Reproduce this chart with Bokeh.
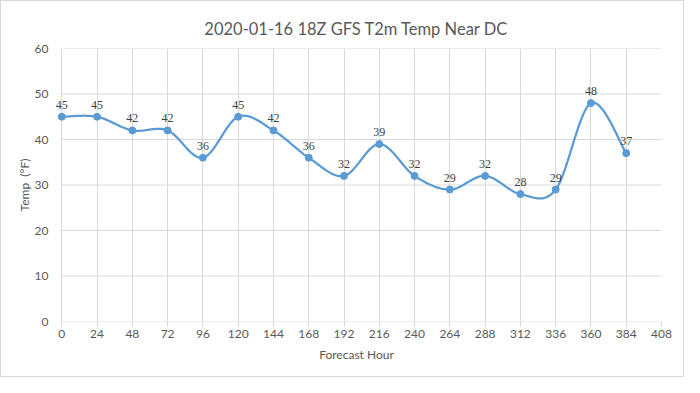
import numpy as np
from bokeh.plotting import figure
from bokeh.models import Range1d, FixedTicker, ColumnDataSource, LabelSet
from bokeh.embed import file_html
from bokeh.resources import INLINE

hours = [0, 24, 48, 72, 96, 120, 144, 168, 192, 216, 240, 264, 288, 312, 336, 360, 384]
temps = [45, 45, 42, 42, 36, 45, 42, 36, 32, 39, 32, 29, 32, 28, 29, 48, 37]
x_ticks = list(range(0, 409, 24))
y_ticks = list(range(0, 61, 10))
X_MIN, X_MAX = 0, 408

BLUE = "#5B9BD5"
GRID = "#D9D9D9"
TXT = "#595959"
FONT = "Lato"

# Excel-style smoothed curve (Bezier through the data points)
def smooth(xs, ys, n=30):
    xs = np.asarray(xs, float); ys = np.asarray(ys, float)
    P = np.column_stack([xs, ys])
    P = np.vstack([P[0], P, P[-1]])
    out = []
    for i in range(1, len(P) - 2):
        p0, p1, p2, p3 = P[i - 1], P[i], P[i + 1], P[i + 2]
        c1 = p1 + (p2 - p0) / 6.0
        c2 = p2 - (p3 - p1) / 6.0
        t = np.linspace(0, 1, n)[:, None]
        b = ((1 - t) ** 3) * p1 + 3 * ((1 - t) ** 2) * t * c1 + 3 * (1 - t) * t ** 2 * c2 + t ** 3 * p2
        out.append(b if i == 1 else b[1:])
    B = np.vstack(out)
    return B[:, 0], B[:, 1]

sx, sy = smooth(hours, temps)

PAD = 7  # extra room on the left so the first data label is not clipped
p = figure(width=684, height=377, output_backend="svg", toolbar_location=None,
           x_range=Range1d(X_MIN - PAD, X_MAX), y_range=Range1d(0, 60),
           min_border_left=50, min_border_right=24, min_border_top=47, min_border_bottom=57)
p.styles = {"border": "1px solid #D9D9D9", "box-sizing": "border-box"}

p.title.text = "2020-01-16 18Z GFS T2m Temp Near DC"
p.title.align = "center"
p.title.text_font = FONT
p.title.text_font_size = "16.5px"
p.title.text_font_style = "normal"
p.title.text_color = TXT
p.title.standoff = 20
p.title.offset = -30

p.outline_line_color = None
p.background_fill_color = "white"

p.xaxis.ticker = FixedTicker(ticks=x_ticks)
p.yaxis.ticker = FixedTicker(ticks=y_ticks)
p.xgrid.ticker = FixedTicker(ticks=x_ticks)
p.xgrid.grid_line_color = GRID
p.ygrid.grid_line_color = None

# horizontal gridlines span only 0..408
gl = ColumnDataSource(dict(x0=[X_MIN] * len(y_ticks), x1=[X_MAX] * len(y_ticks), y=y_ticks))
p.segment(x0="x0", x1="x1", y0="y", y1="y", source=gl, line_color=GRID, line_width=1)

p.xaxis.axis_label = "Forecast Hour"
p.yaxis.axis_label = "Temp\u00a0\u00a0(°F)"
for ax in (p.xaxis[0], p.yaxis[0]):
    ax.axis_label_text_font = FONT
    ax.axis_label_text_font_size = "12px"
    ax.axis_label_text_font_style = "normal"
    ax.axis_label_text_color = TXT
    ax.major_label_text_font = FONT
    ax.major_label_text_font_size = "12px"
    ax.major_label_text_color = TXT
    ax.minor_tick_line_color = None

p.xaxis.axis_line_color = None
p.xaxis.major_tick_line_color = GRID
p.xaxis.major_tick_out = 5
p.xaxis.major_tick_in = 0
p.xaxis.major_label_standoff = 3
p.xaxis.axis_label_standoff = 6

p.yaxis.axis_line_color = None
p.yaxis.major_tick_line_color = None
p.yaxis.major_tick_out = 0
p.yaxis.major_tick_in = 0
p.yaxis.major_label_standoff = 3
p.yaxis.axis_label_standoff = 0

p.line(sx, sy, line_color=BLUE, line_width=2.25)
src = ColumnDataSource(dict(x=hours, y=temps, lab=[str(t) for t in temps]))
p.scatter("x", "y", source=src, size=7, color=BLUE)
labels = LabelSet(x="x", y="y", text="lab", source=src, y_offset=8,
                  text_align="center", text_baseline="bottom",
                  text_font_size="12px", text_color="#404040", text_font=FONT)
p.add_layout(labels)

open("out.html", "w").write(file_html(p, INLINE))
